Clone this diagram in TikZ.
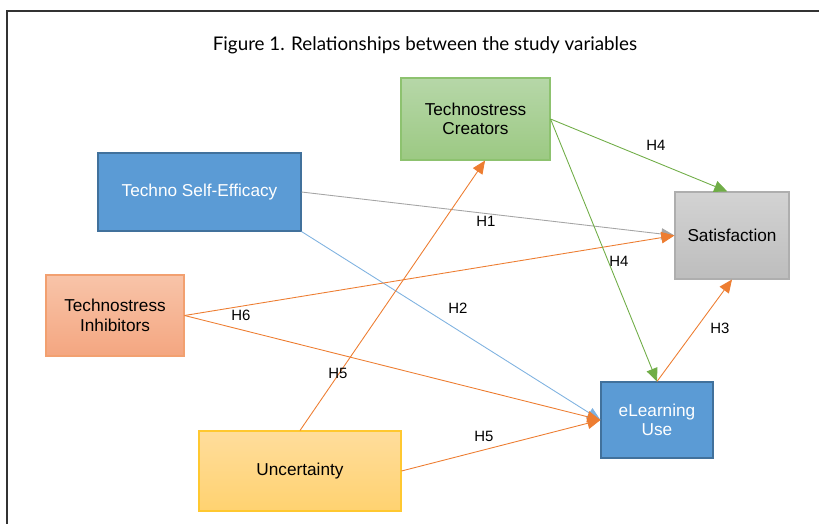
\documentclass[tikz,border=0pt]{standalone}
\usepackage{fontspec}
\setmainfont{Liberation Sans}
\newfontfamily\titlefont{Lato}
\usetikzlibrary{arrows.meta}

\definecolor{boxblue}{HTML}{5B9BD5}
\definecolor{boxblueline}{HTML}{41719C}
\definecolor{greentop}{HTML}{B6D7A8}
\definecolor{greenbot}{HTML}{9CC983}
\definecolor{greenline}{HTML}{8DC26F}
\definecolor{graytop}{HTML}{D3D3D3}
\definecolor{graybot}{HTML}{BDBDBD}
\definecolor{grayline}{HTML}{AEAEAE}
\definecolor{orangetop}{HTML}{F8C4A9}
\definecolor{orangebot}{HTML}{F4A680}
\definecolor{orangeline}{HTML}{F2A070}
\definecolor{yellowtop}{HTML}{FFDD9C}
\definecolor{yellowbot}{HTML}{FFD270}
\definecolor{yellowline}{HTML}{FFC830}
\definecolor{arrgreen}{HTML}{70AD47}
\definecolor{arrorange}{HTML}{ED7D31}
\definecolor{arrgray}{HTML}{A5A5A5}
\definecolor{arrblue}{HTML}{7FB2E0}

\tikzset{
	varbox/.style={draw, line width=0.6pt, align=center, inner sep=0pt, font=\fontsize{9.8}{11.2}\selectfont},
	bluebox/.style={varbox, fill=boxblue, draw=boxblueline, text=white},
	greenbox/.style={varbox, top color=greentop, bottom color=greenbot, draw=greenline},
	graybox/.style={varbox, top color=graytop, bottom color=graybot, draw=grayline},
	orangebox/.style={varbox, top color=orangetop, bottom color=orangebot, draw=orangeline},
	yellowbox/.style={varbox, top color=yellowtop, bottom color=yellowbot, draw=yellowline},
	hyp/.style={line width=0.5pt, -{Triangle[length=7.5pt, width=6.5pt]}},
	hlabel/.style={font=\fontsize{8.5}{10}\selectfont, inner sep=1pt},
}

\begin{document}
\begin{tikzpicture}[x=0.02cm, y=-0.02cm]
			%%%%% START %%%%%
			
			\useasboundingbox (0, 0) rectangle (819, 524);
			\draw[line width=1pt, color=black!80] (7, 524) -- (7, 11) -- (819, 11);
			
			\node[font=\titlefont\fontsize{10.7}{13}\selectfont] (title) at (425, 45) {Figure 1. Relationships between the study variables};
			
			\node[greenbox, minimum width=2.98cm, minimum height=1.64cm] (creators) at (475.5, 119) {Technostress\\Creators};
			\node[bluebox, minimum width=4.06cm, minimum height=1.56cm] (efficacy) at (199.5, 192) {Techno Self-Efficacy};
			\node[graybox, minimum width=2.28cm, minimum height=1.74cm] (satisf) at (732, 235.5) {Satisfaction};
			\node[orangebox, minimum width=2.76cm, minimum height=1.62cm] (inhib) at (115, 315.5) {Technostress\\Inhibitors};
			\node[yellowbox, minimum width=4.04cm, minimum height=1.6cm] (uncert) at (300, 471) {Uncertainty};
			\node[bluebox, minimum width=2.24cm, minimum height=1.52cm] (elearn) at (657, 420) {eLearning\\Use};
			
			\draw[hyp, color=arrgray] (efficacy.east) -- (satisf.west);
			\draw[hyp, color=arrblue] (efficacy.south east) -- (elearn.west);
			\draw[hyp, color=arrorange] (inhib.east) -- (satisf.west);
			\draw[hyp, color=arrorange] (inhib.east) -- (elearn.west);
			\draw[hyp, color=arrorange] (uncert.north) -- (creators.283);
			\draw[hyp, color=arrorange] (uncert.east) -- (elearn.west);
			\draw[hyp, color=arrgreen] (creators.east) -- (satisf.96);
			\draw[hyp, color=arrgreen] (creators.east) -- (elearn.north);
			\draw[hyp, color=arrorange] (elearn.north) -- (satisf.south);
			
			\node[hlabel] (h4a) at (656, 145) {H4};
			\node[hlabel] (h4b) at (619, 261) {H4};
			\node[hlabel] (h1) at (486, 221) {H1};
			\node[hlabel] (h2) at (458, 308) {H2};
			\node[hlabel] (h6) at (241, 315) {H6};
			\node[hlabel] (h5a) at (338, 373) {H5};
			\node[hlabel] (h5b) at (484, 436) {H5};
			\node[hlabel] (h3) at (720, 328) {H3};
			
			%%%%% END %%%%%
		\end{tikzpicture}
\end{document}
